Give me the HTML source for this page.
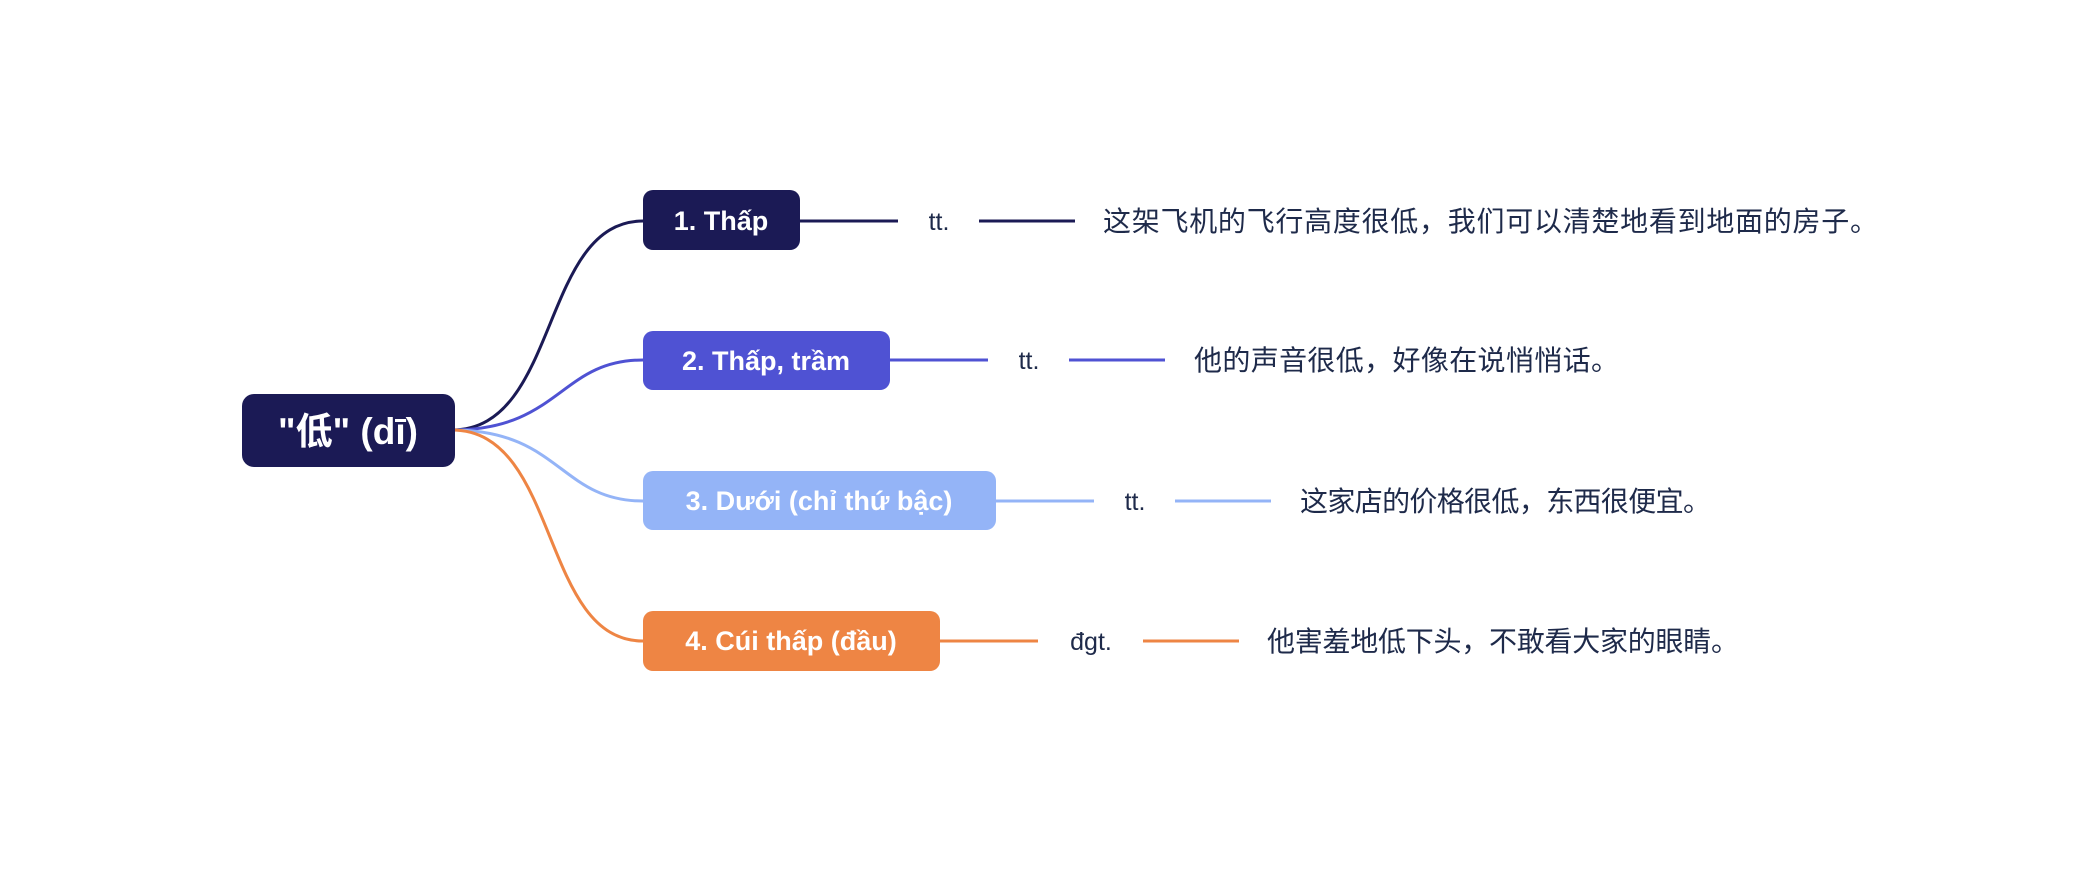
<!DOCTYPE html>
<html><head><meta charset="utf-8"><style>
html,body{margin:0;padding:0;background:#fff;width:2074px;height:871px;overflow:hidden}
svg{display:block}
text{font-family:"Liberation Sans","Noto Sans CJK SC",sans-serif}
</style></head><body>
<svg width="2074" height="871" viewBox="0 0 2074 871" xmlns="http://www.w3.org/2000/svg">
<g fill="none" stroke-width="3">
<path d="M452 430 C560 430 540 221 643 221" stroke="#1b1a55"/>
<path d="M452 430 C560 430 560 360 643 360" stroke="#4f52d3"/>
<path d="M452 430 C560 430 560 501 643 501" stroke="#94b4f7"/>
<path d="M452 430 C560 430 540 641 643 641" stroke="#ee8544"/>
<path d="M800 221 H898 M979 221 H1075" stroke="#1b1a55"/>
<path d="M890 360 H988 M1069 360 H1165" stroke="#4f52d3"/>
<path d="M996 501 H1094 M1175 501 H1271" stroke="#94b4f7"/>
<path d="M940 641 H1038 M1143 641 H1239" stroke="#ee8544"/>
</g>
<rect x="242" y="394" width="213" height="73" rx="12" fill="#1b1a55"/>
<text x="348" y="444" text-anchor="middle" font-size="37" font-weight="bold" fill="#fff">"低" (dī)</text>
<rect x="643" y="190" width="157" height="60" rx="10" fill="#1b1a55"/>
<text x="721" y="230" text-anchor="middle" font-size="27" font-weight="bold" fill="#fff">1. Thấp</text>
<rect x="643" y="331" width="247" height="59" rx="10" fill="#4f52d3"/>
<text x="766" y="370" text-anchor="middle" font-size="27" font-weight="bold" fill="#fff">2. Thấp, trầm</text>
<rect x="643" y="471" width="353" height="59" rx="10" fill="#94b4f7"/>
<text x="819" y="510" text-anchor="middle" font-size="27" font-weight="bold" fill="#fff">3. Dưới (chỉ thứ bậc)</text>
<rect x="643" y="611" width="297" height="60" rx="10" fill="#ee8544"/>
<text x="791" y="650" text-anchor="middle" font-size="27" font-weight="bold" fill="#fff">4. Cúi thấp (đầu)</text>
<g font-size="25" fill="#1e2a4a" text-anchor="middle">
<text x="939" y="230">tt.</text>
<text x="1029" y="369">tt.</text>
<text x="1135" y="510">tt.</text>
<text x="1091" y="650">đgt.</text>
</g>
<g font-size="28" fill="#1e2a4a">
<text x="1103" y="231" textLength="775">这架飞机的飞行高度很低，我们可以清楚地看到地面的房子。</text>
<text x="1194" y="370" textLength="425">他的声音很低，好像在说悄悄话。</text>
<text x="1300" y="511" textLength="411">这家店的价格很低，东西很便宜。</text>
<text x="1267" y="651" textLength="472">他害羞地低下头，不敢看大家的眼睛。</text>
</g>
</svg>
</body></html>
